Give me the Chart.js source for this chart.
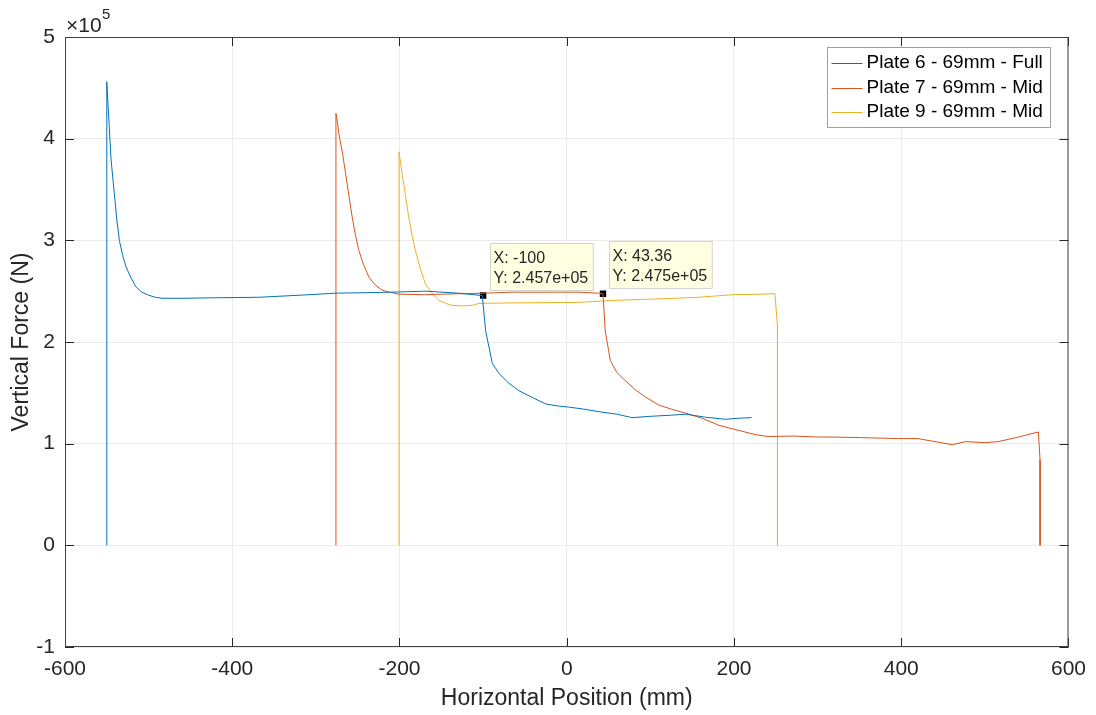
<!DOCTYPE html>
<html>
<head>
<meta charset="utf-8">
<script src="https://cdn.jsdelivr.net/npm/chart.js@4"></script>
<style>
  html, body { margin: 0; padding: 0; background: #ffffff; }
  #wrap { width: 1096px; height: 715px; }
</style>
</head>
<body>
<div id="wrap"><canvas id="c" width="1096" height="715"></canvas></div>
<script>
// ---------------- DATA (force in units of 1e5 N) ----------------
const seriesNames = ['Plate 6 - 69mm - Full', 'Plate 7 - 69mm - Mid', 'Plate 9 - 69mm - Mid'];

const plate6X = [-550, -550, -549, -547, -545, -541, -538, -535, -531, -527, -521, -515, -508, -500, -492, -484, -460, -420, -368, -320, -276, -240, -209, -169, -129, -101, -97, -93, -89, -81, -70, -57, -40, -25, -10, 2, 20, 42, 60, 78, 102, 125, 142, 166, 190, 205, 221];
const plate6Y = [0, 4.56, 4.40, 4.11, 3.80, 3.46, 3.20, 3.00, 2.85, 2.74, 2.63, 2.54, 2.49, 2.46, 2.44, 2.43, 2.43, 2.435, 2.44, 2.46, 2.48, 2.485, 2.49, 2.50, 2.48, 2.457, 2.11, 1.95, 1.79, 1.69, 1.60, 1.52, 1.45, 1.39, 1.37, 1.36, 1.34, 1.31, 1.29, 1.256, 1.27, 1.28, 1.29, 1.26, 1.24, 1.25, 1.256];

const plate7X = [-276, -276, -274, -272.5, -268, -264.5, -260.5, -256.6, -252.6, -248.6, -243, -236.7, -229, -220.7, -212, -201, -170, -129, -100, -65, -10, 14, 38, 43.36, 46, 50, 52, 60, 70, 82, 94, 110, 125, 142, 162, 182, 206, 225, 241, 270, 301, 317, 350, 397, 420, 437, 461, 477, 500, 516, 540, 564, 566, 566];
const plate7Y = [0, 4.25, 4.15, 4.05, 3.85, 3.66, 3.44, 3.23, 3.05, 2.90, 2.76, 2.64, 2.56, 2.51, 2.49, 2.47, 2.465, 2.475, 2.48, 2.49, 2.49, 2.49, 2.48, 2.475, 2.11, 1.92, 1.82, 1.70, 1.62, 1.53, 1.46, 1.38, 1.34, 1.30, 1.25, 1.18, 1.13, 1.09, 1.07, 1.075, 1.065, 1.065, 1.06, 1.05, 1.05, 1.025, 0.99, 1.02, 1.01, 1.02, 1.065, 1.115, 0.84, 0];

const plate9X = [-200.5, -200.5, -199, -197, -193, -189, -185, -181, -175, -169, -161, -153, -145, -137, -125, -113, -105, -60, 14, 60, 94, 130, 158, 174, 198, 230, 249, 252, 252];
const plate9Y = [0, 3.87, 3.78, 3.66, 3.45, 3.23, 3.05, 2.90, 2.72, 2.57, 2.48, 2.41, 2.38, 2.36, 2.355, 2.36, 2.38, 2.385, 2.39, 2.41, 2.42, 2.43, 2.44, 2.45, 2.465, 2.47, 2.475, 2.15, 0];

const datatipX = [-100, 43.36];
const datatipY = [2.457, 2.475];

const xTicks = [-600, -400, -200, 0, 200, 400, 600];
const yTicks = [-1, 0, 1, 2, 3, 4, 5];
const yExponent = 5;

const colors = ['#0072BD', '#D95319', '#EDB120'];
// ---------------------------------------------------------------

function zip(xs, ys) { return xs.map((v, i) => ({ x: v, y: ys[i] })); }

const TEXT = '#262626';
const FONT = '"Liberation Sans", Arial, Helvetica, sans-serif';

function fmtX(v) { return String(Number(v.toPrecision(4))); }
function fmtY(v) {
  return (v * Math.pow(10, yExponent)).toExponential(3).replace(/e([+-])(\d)$/, 'e$10$2');
}

const matlabPlugin = {
  id: 'matlab',
  afterDatasetsDraw(chart) {
    const { ctx, scales: { x, y } } = chart;
    ctx.save();
    ctx.font = '16px ' + FONT;
    datatipX.forEach((dx, i) => {
      const px = x.getPixelForValue(dx);
      const py = y.getPixelForValue(datatipY[i]);
      const l1 = 'X: ' + fmtX(dx);
      const l2 = 'Y: ' + fmtY(datatipY[i]);
      const w = Math.max(ctx.measureText(l1).width, ctx.measureText(l2).width) + 8;
      const h = 47;
      const bx = Math.round(px + 6.5) + 0.5;
      const by = Math.round(py - 6 - h) + 0.5;
      ctx.fillStyle = '#FFFFE1';
      ctx.fillRect(bx, by, w, h);
      ctx.strokeStyle = '#D4D4D4';
      ctx.lineWidth = 1;
      ctx.strokeRect(bx, by, w, h);
      ctx.fillStyle = TEXT;
      ctx.textAlign = 'left';
      ctx.textBaseline = 'middle';
      ctx.fillText(l1, bx + 3, by + 15.5);
      ctx.fillText(l2, bx + 3, by + 35.5);
    });
    ctx.restore();
  },
  afterDraw(chart) {
    const { ctx, chartArea: a, scales: { x, y } } = chart;
    ctx.save();
    ctx.strokeStyle = TEXT;
    ctx.lineWidth = 1;
    ctx.beginPath();
    x.ticks.forEach(t => {
      const px = Math.round(x.getPixelForValue(t.value)) + 0.5;
      ctx.moveTo(px, a.bottom); ctx.lineTo(px, a.bottom - 9);
      ctx.moveTo(px, a.top); ctx.lineTo(px, a.top + 9);
    });
    y.ticks.forEach(t => {
      const py = Math.round(y.getPixelForValue(t.value)) + 0.5;
      ctx.moveTo(a.left, py); ctx.lineTo(a.left + 9, py);
      ctx.moveTo(a.right, py); ctx.lineTo(a.right - 9, py);
    });
    ctx.stroke();
    ctx.strokeStyle = '#404040';
    ctx.strokeRect(a.left + 0.5, a.top + 0.5, a.right - a.left - 1, a.bottom - a.top - 1);

    // exponent label
    ctx.fillStyle = TEXT;
    ctx.textAlign = 'left';
    ctx.textBaseline = 'middle';
    ctx.font = '21px ' + FONT;
    ctx.fillText('\u00D710', a.left + 1, a.top - 11);
    const w10 = ctx.measureText('\u00D710').width;
    ctx.font = '15px ' + FONT;
    ctx.fillText(String(yExponent), a.left + 1 + w10 + 0.5, a.top - 22);

    // legend
    const lx = 827.5, ly = 47.5, lw = 223, lh = 80;
    ctx.fillStyle = '#ffffff';
    ctx.fillRect(lx, ly, lw, lh);
    ctx.strokeStyle = '#A0A0A0';
    ctx.strokeRect(lx, ly, lw, lh);
    ctx.font = '19px ' + FONT;
    ctx.textBaseline = 'middle';
    seriesNames.forEach((name, i) => {
      const ry = ly + 15.5 + i * 24.5;
      ctx.strokeStyle = colors[i];
      ctx.lineWidth = 1;
      ctx.beginPath();
      ctx.moveTo(lx + 4, Math.round(ry) + 0.5);
      ctx.lineTo(lx + 35, Math.round(ry) + 0.5);
      ctx.stroke();
      ctx.fillStyle = '#000000';
      ctx.fillText(name, lx + 39, ry);
    });
    ctx.restore();
  }
};

const lineDs = (label, xs, ys, color) => ({
  label,
  data: zip(xs, ys),
  showLine: true,
  borderColor: color,
  backgroundColor: color,
  borderWidth: 1,
  pointRadius: 0,
  tension: 0,
  fill: false
});

new Chart(document.getElementById('c'), {
  type: 'scatter',
  data: {
    datasets: [
      lineDs(seriesNames[0], plate6X, plate6Y, colors[0]),
      lineDs(seriesNames[1], plate7X, plate7Y, colors[1]),
      lineDs(seriesNames[2], plate9X, plate9Y, colors[2]),
      {
        label: 'datatips',
        data: zip(datatipX, datatipY),
        showLine: false,
        pointStyle: 'rect',
        pointRadius: 4.5,
        pointBackgroundColor: '#000000',
        pointBorderColor: '#000000',
        pointBorderWidth: 0
      }
    ]
  },
  options: {
    responsive: false,
    animation: false,
    devicePixelRatio: 1,
    layout: { padding: { left: 0, top: 37, right: 27, bottom: 0 } },
    plugins: { legend: { display: false }, tooltip: { enabled: false } },
    scales: {
      x: {
        type: 'linear',
        min: xTicks[0], max: xTicks[xTicks.length - 1],
        afterBuildTicks: s => { s.ticks = xTicks.map(v => ({ value: v })); },
        afterFit: s => { s.height = 68; },
        grid: { color: '#EBEBEB', drawTicks: false },
        border: { display: false },
        ticks: { color: TEXT, font: { family: FONT, size: 21 }, padding: 10, maxRotation: 0, callback: v => String(v) },
        title: { display: true, text: 'Horizontal Position (mm)', color: TEXT, font: { family: FONT, size: 23 }, padding: { top: 3, bottom: 3 } }
      },
      y: {
        type: 'linear',
        min: yTicks[0], max: yTicks[yTicks.length - 1],
        afterBuildTicks: s => { s.ticks = yTicks.map(v => ({ value: v })); },
        afterFit: s => { s.width = 65; },
        grid: { color: '#EBEBEB', drawTicks: false },
        border: { display: false },
        ticks: { color: TEXT, font: { family: FONT, size: 21 }, padding: 10, callback: v => String(v) },
        title: { display: true, text: 'Vertical Force (N)', color: TEXT, font: { family: FONT, size: 23 }, padding: { top: 8, bottom: 8 } }
      }
    }
  },
  plugins: [matlabPlugin]
});
</script>
</body>
</html>
